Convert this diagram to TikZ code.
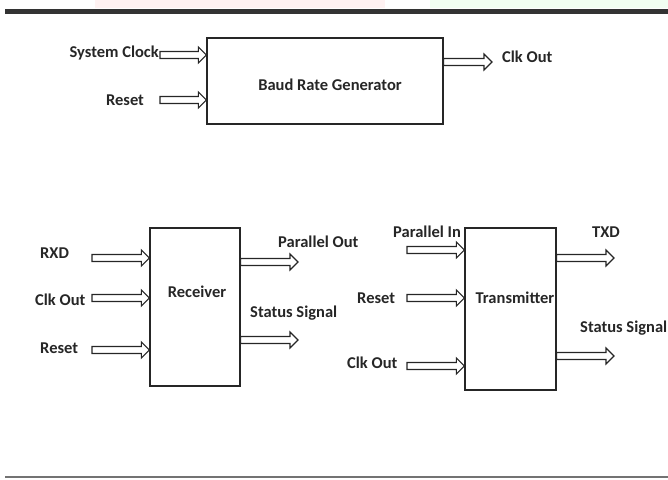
\documentclass[tikz,border=0pt]{standalone}
\usepackage{fontspec}
\setmainfont{Carlito}
\usetikzlibrary{calc}
\begin{document}
\begin{tikzpicture}[
  x=1pt, y=-1pt,
  box/.style={draw=black!85, line width=1.3pt, minimum width=#1, inner sep=0pt},
  lbl/.style={text=black!85, font=\fontsize{16.5}{18}\selectfont\bfseries, inner sep=0pt},
  arrow/.style={draw=black!85, line width=1.1pt, line join=miter, to path={
    let \p1=(\tikztostart), \p2=(\tikztotarget) in
    (\x1,\y1+3.5pt) -- (\x2-8pt,\y1+3.5pt) -- (\x2-8pt,\y1+8pt) -- (\x2,\y1)
    -- (\x2-8pt,\y1-8pt) -- (\x2-8pt,\y1-3.5pt) -- (\x1,\y1-3.5pt) -- cycle}}
]
\useasboundingbox (0,0) rectangle (668,479);
\fill[red!5] (95,0) rectangle (385,8);
\fill[green!5] (430,0) rectangle (668,8);
\draw[black!80, line width=5pt] (5,11) -- (668,11);
\draw[black!55, line width=1.5pt] (5,477) -- (668,477);

\node[box=236pt, minimum height=86pt] (baud) at (325,81) {};
\node[lbl] (baudtext) at (330,85) {Baud Rate Generator};
\node[box=90pt, minimum height=158pt] (rx) at (195,307) {};
\node[lbl] (rxtext) at (197,292) {Receiver};
\node[box=91pt, minimum height=162pt] (tx) at (510.5,309) {};
\node[lbl] (txtext) at (515,298) {Transmitter};

\node[lbl, anchor=east] (sysclk) at (159,53) {System Clock};
\node[lbl] (baudrst) at (125,100) {Reset};
\node[lbl, anchor=west] (baudclk) at (502,57) {Clk Out};
\coordinate (sysclk-in) at (160,55);
\coordinate (baudrst-in) at (160,100);
\coordinate (baudclk-out) at (492,62);
\draw[arrow] (sysclk-in) to (baud.west |- sysclk-in);
\draw[arrow] (baudrst-in) to (baud.west |- baudrst-in);
\draw[arrow] (baud.east |- baudclk-out) to (baudclk-out);

\node[lbl, anchor=west] (rxd) at (40,253) {RXD};
\node[lbl, anchor=west] (rxclk) at (35,300) {Clk Out};
\node[lbl, anchor=west] (rxrst) at (40,348) {Reset};
\node[lbl, anchor=west] (pout) at (278,242) {Parallel Out};
\node[lbl, anchor=west] (rxstat) at (250,313) {Status Signal};
\coordinate (rxd-in) at (92,258);
\coordinate (rxclk-in) at (92,298);
\coordinate (rxrst-in) at (92,350);
\coordinate (pout-out) at (298,262);
\coordinate (rxstat-out) at (298,340);
\draw[arrow] (rxd-in) to (rx.west |- rxd-in);
\draw[arrow] (rxclk-in) to (rx.west |- rxclk-in);
\draw[arrow] (rxrst-in) to (rx.west |- rxrst-in);
\draw[arrow] (rx.east |- pout-out) to (pout-out);
\draw[arrow] (rx.east |- rxstat-out) to (rxstat-out);

\node[lbl, anchor=west] (pin) at (393,232) {Parallel In};
\node[lbl, anchor=west] (txrst) at (357,298) {Reset};
\node[lbl, anchor=west] (txclk) at (347,363) {Clk Out};
\node[lbl, anchor=west] (txd) at (592,232) {TXD};
\node[lbl, anchor=west] (txstat) at (580,328) {Status Signal};
\coordinate (pin-in) at (407,250);
\coordinate (txrst-in) at (407,298);
\coordinate (txclk-in) at (407,366);
\coordinate (txd-out) at (614,258);
\coordinate (txstat-out) at (614,356);
\draw[arrow] (pin-in) to (tx.west |- pin-in);
\draw[arrow] (txrst-in) to (tx.west |- txrst-in);
\draw[arrow] (txclk-in) to (tx.west |- txclk-in);
\draw[arrow] (tx.east |- txd-out) to (txd-out);
\draw[arrow] (tx.east |- txstat-out) to (txstat-out);
\end{tikzpicture}
\end{document}
